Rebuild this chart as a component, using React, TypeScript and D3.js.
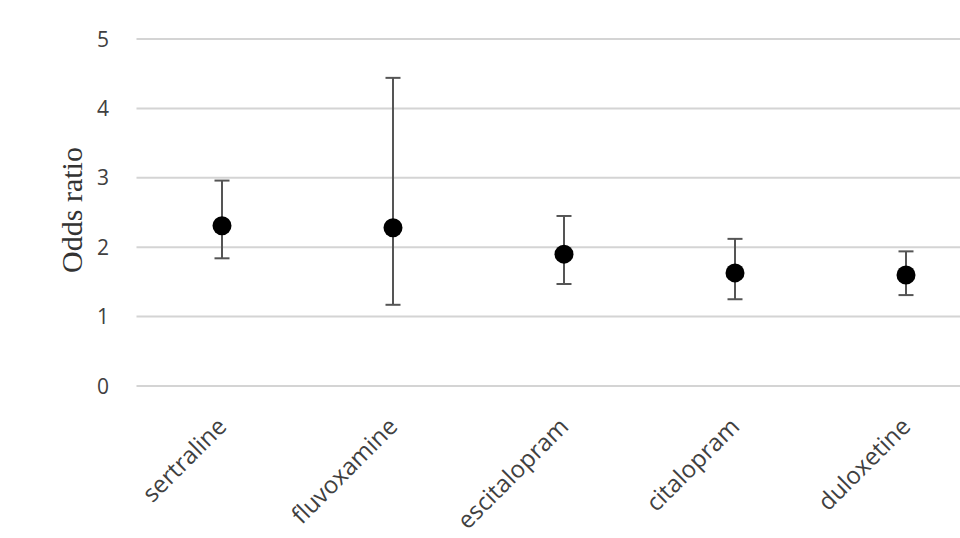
import React from "react";
import * as d3 from "d3";

const categories = ["sertraline", "fluvoxamine", "escitalopram", "citalopram", "duloxetine"];
const oddsRatio = [2.31, 2.28, 1.9, 1.63, 1.6];
const lowerCI = [1.84, 1.17, 1.47, 1.25, 1.31];
const upperCI = [2.96, 4.44, 2.45, 2.12, 1.94];
const yTicks = [0, 1, 2, 3, 4, 5];

const W = 960;
const H = 538;

export default function App() {
  const x = d3.scaleBand<string>().domain(categories).range([136.5, 991.5]);
  const y = d3.scaleLinear().domain([0, 5]).range([386, 39]);
  const cx = (c: string) => (x(c) as number) + x.bandwidth() / 2;
  const cap = 7.5;
  return (
    <svg width={W} height={H} style={{ position: "absolute", left: 0, top: 0, background: "#fff" }}>
      {yTicks.map((t) => (
        <g key={t}>
          <line x1={136.5} x2={W} y1={y(t)} y2={y(t)} stroke="#d4d4d4" strokeWidth={2} />
          <text
            x={109}
            y={y(t)}
            dy="0.36em"
            textAnchor="end"
            fontFamily="'Open Sans', sans-serif"
            fontSize={21}
            fill="#404040"
          >
            {t}
          </text>
        </g>
      ))}
      <text
        transform={`translate(82,210) rotate(-90)`}
        textAnchor="middle"
        fontFamily="'Liberation Serif', 'DejaVu Serif', serif"
        fontSize={30}
        fill="#333"
      >
        Odds ratio
      </text>
      {categories.map((c, i) => {
        const px = cx(c);
        return (
          <g key={c}>
            <line x1={px} x2={px} y1={y(upperCI[i])} y2={y(lowerCI[i])} stroke="#555" strokeWidth={2} />
            <line x1={px - cap} x2={px + cap} y1={y(upperCI[i])} y2={y(upperCI[i])} stroke="#555" strokeWidth={2} />
            <line x1={px - cap} x2={px + cap} y1={y(lowerCI[i])} y2={y(lowerCI[i])} stroke="#555" strokeWidth={2} />
            <circle cx={px} cy={y(oddsRatio[i])} r={9.5} fill="#000" />
            <text
              transform={`translate(${px + 6},${428}) rotate(-45)`}
              textAnchor="end"
              fontFamily="'Open Sans', sans-serif"
              fontSize={24}
              fill="#404040"
            >
              {c}
            </text>
          </g>
        );
      })}
    </svg>
  );
}
